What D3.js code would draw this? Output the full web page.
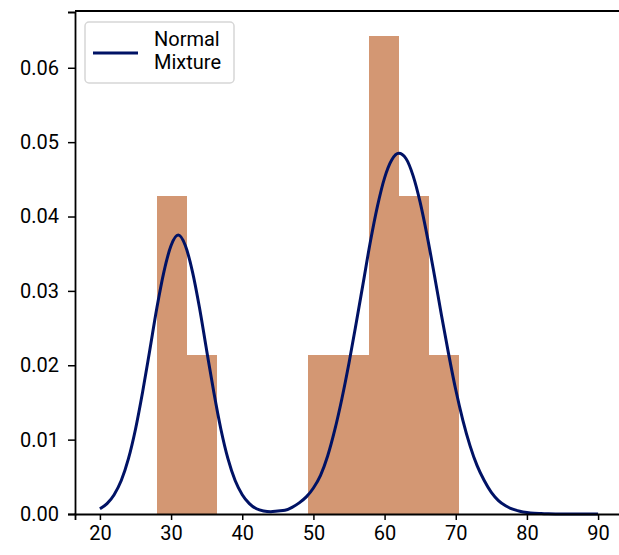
<!DOCTYPE html>
<html>

<head>
  <meta charset="UTF-8">
  <title>Normal mixture</title>
  <script src="https://d3js.org/d3.v7.min.js"></script>
  <style>
    body {
      margin: 0;
      background: #fff;
    }

    svg text {
      font-family: Roboto, "Noto Sans", sans-serif;
      font-size: 20px;
      fill: #000;
    }
  </style>
</head>

<body>
  <svg></svg>

  <script>
    // histogram bins (density)
    let binEdges = [27.97, 32.22, 36.48, 40.73, 44.98, 49.24, 53.49, 57.74, 62.0, 66.25, 70.5];
    let binDensity = [0.0428, 0.0214, 0, 0, 0, 0.0214, 0.0214, 0.0643, 0.0428, 0.0214];

    // fitted curve
    let curveX = [20, 21, 22, 23, 24, 25, 26, 27, 28, 29, 30, 31, 32, 33, 34, 35, 36, 37, 38, 39,
      40, 41, 42, 43, 44, 45, 46, 47, 48, 49, 50, 51, 52, 53, 54, 55, 56, 57, 58, 59,
      60, 61, 62, 63, 64, 65, 66, 67, 68, 69, 70, 71, 72, 73, 74, 75, 76, 77, 78, 79,
      80, 81, 82, 83, 84, 86, 88, 90];
    let curveY = [0.0007, 0.0014, 0.0026, 0.0045, 0.0074, 0.0114, 0.0164, 0.0220, 0.0277, 0.0326,
      0.0361, 0.0375, 0.0361, 0.0326, 0.0277, 0.0220, 0.0164, 0.0114, 0.0074, 0.0045,
      0.0026, 0.0014, 0.0007, 0.0004, 0.0003, 0.0004, 0.0005, 0.0009, 0.0015, 0.0023,
      0.0035, 0.0052, 0.0078, 0.0113, 0.0155, 0.0203, 0.0256, 0.0311, 0.0366, 0.0414,
      0.0452, 0.0476, 0.0485, 0.0478, 0.0455, 0.0419, 0.0373, 0.0321, 0.0267, 0.0215,
      0.0167, 0.0126, 0.0092, 0.0065, 0.0045, 0.0029, 0.0018, 0.0011, 0.00065, 0.00037,
      0.0002, 0.0001, 0.00006, 0.00003, 0.00001, 0, 0, 0];

    let xTicks = [20, 30, 40, 50, 60, 70, 80, 90];
    let yTicks = [0, 0.01, 0.02, 0.03, 0.04, 0.05, 0.06];
    let legendLabel = ["Normal", "Mixture"];

    let width = 619,
      height = 555;
    let plotLeft = 75, plotRight = 623, plotTop = 12, plotBottom = 514;

    let svg = d3.select("svg")
      .attr("width", width)
      .attr("height", height);

    let x = d3.scaleLinear().domain([16.5, 93.5]).range([plotLeft, plotRight]);
    let y = d3.scaleLinear().domain([0, 0.0675]).range([plotBottom, plotTop]);

    let bins = binDensity.map((d, i) => ({ x0: binEdges[i], x1: binEdges[i + 1], v: d }));

    svg.append("g")
      .selectAll("rect")
      .data(bins)
      .enter()
      .append("rect")
      .attr("x", d => x(d.x0))
      .attr("width", d => x(d.x1) - x(d.x0))
      .attr("y", d => y(d.v))
      .attr("height", d => y(0) - y(d.v))
      .attr("fill", "#d39773")
      .attr("shape-rendering", "crispEdges");

    let line = d3.line()
      .x((d, i) => x(curveX[i]))
      .y(d => y(d))
      .curve(d3.curveMonotoneX);

    svg.append("path")
      .datum(curveY)
      .attr("d", line)
      .attr("fill", "none")
      .attr("stroke", "#001265")
      .attr("stroke-width", 3);

    // axes
    let yAxis = svg.append("g")
      .attr("transform", "translate(" + plotLeft + ",0)")
      .call(d3.axisLeft(y).tickValues(yTicks).tickFormat(d3.format(".2f")).tickSizeOuter(0).tickSize(7).tickPadding(9));

    let xAxis = svg.append("g")
      .attr("transform", "translate(0," + plotBottom + ")")
      .call(d3.axisBottom(x).tickValues(xTicks).tickSizeOuter(0).tickSize(6).tickPadding(6));

    [yAxis, xAxis].forEach(a => {
      a.selectAll("text").style("font-size", "20px").style("font-family", "Roboto, sans-serif");
      a.selectAll("line").attr("stroke", "#000").attr("stroke-width", 1.5);
      a.select(".domain").attr("stroke", "#000").attr("stroke-width", 1.8);
    });

    // top and right spines
    svg.append("line")
      .attr("x1", plotLeft).attr("x2", plotRight)
      .attr("y1", plotTop - 1).attr("y2", plotTop - 1)
      .attr("stroke", "#000").attr("stroke-width", 1.8);
    svg.append("line")
      .attr("x1", plotRight).attr("x2", plotRight)
      .attr("y1", plotTop).attr("y2", plotBottom)
      .attr("stroke", "#000").attr("stroke-width", 1.8);

    // legend
    let lg = svg.append("g").attr("transform", "translate(85,22)");
    lg.append("rect")
      .attr("width", 149).attr("height", 61)
      .attr("rx", 4)
      .attr("fill", "#fff")
      .attr("stroke", "#d6d6d6")
      .attr("stroke-width", 1.5);
    lg.append("line")
      .attr("x1", 8).attr("x2", 53)
      .attr("y1", 31).attr("y2", 31)
      .attr("stroke", "#001265").attr("stroke-width", 3);
    lg.selectAll("text.lab")
      .data(legendLabel)
      .enter()
      .append("text")
      .attr("class", "lab")
      .attr("x", 69)
      .attr("y", (d, i) => 24 + i * 23)
      .text(d => d);
  </script>

</body>

</html>
